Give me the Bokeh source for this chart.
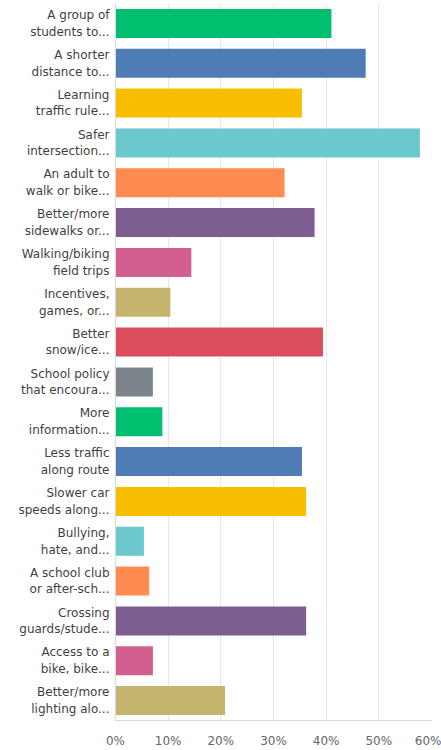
from bokeh.plotting import figure
from bokeh.models import FactorRange, ColumnDataSource, NumeralTickFormatter, FixedTicker
from bokeh.embed import file_html
from bokeh.resources import INLINE

labels = [
    "A group of\nstudents to...",
    "A shorter\ndistance to...",
    "Learning\ntraffic rule...",
    "Safer\nintersection...",
    "An adult to\nwalk or bike...",
    "Better/more\nsidewalks or...",
    "Walking/biking\nfield trips",
    "Incentives,\ngames, or...",
    "Better\nsnow/ice...",
    "School policy\nthat encoura...",
    "More\ninformation...",
    "Less traffic\nalong route",
    "Slower car\nspeeds along...",
    "Bullying,\nhate, and...",
    "A school club\nor after-sch...",
    "Crossing\nguards/stude...",
    "Access to a\nbike, bike...",
    "Better/more\nlighting alo...",
]
values = [41.0, 47.5, 35.4, 57.8, 32.1, 37.8, 14.4, 10.4, 39.4, 7.1,
          8.9, 35.4, 36.2, 5.4, 6.4, 36.2, 7.1, 20.8]
palette = ["#00BF6F", "#507CB6", "#F9BE00", "#6BC8CD", "#FF8B4F",
           "#7D5E90", "#D25F90", "#C4B46E", "#DB4D5C", "#7C868A"]
colors = [palette[i % len(palette)] for i in range(len(labels))]
x_ticks = [0, 10, 20, 30, 40, 50, 60]

src = ColumnDataSource(dict(cat=labels, val=[v / 100 for v in values], color=colors))

p = figure(width=441, height=750, output_backend="svg", toolbar_location=None,
           y_range=FactorRange(factors=list(reversed(labels)), range_padding=0),
           x_range=(0, 0.6),
           min_border_left=115, min_border_right=10, min_border_top=3, min_border_bottom=23)
p.hbar(y="cat", right="val", left=0, height=0.73, color="color", source=src, line_color=None)

p.outline_line_color = None
p.ygrid.grid_line_color = None
p.xgrid.grid_line_color = "#e6e6e6"
p.xaxis.ticker = FixedTicker(ticks=[t / 100 for t in x_ticks])
p.xaxis.formatter = NumeralTickFormatter(format="0%")
for ax in (p.xaxis, p.yaxis):
    ax.major_tick_line_color = None
    ax.minor_tick_line_color = None
    ax.axis_line_color = "#d9d9d9"
    ax.major_label_text_color = "#3f3f3f"
    ax.major_label_text_font = "DejaVu Sans"
    ax.major_label_text_font_size = "12px"
p.yaxis.major_label_standoff = 0
p.xaxis.major_label_standoff = 7
p.xaxis.major_label_text_color = "#666666"

open("out.html", "w").write(file_html(p, INLINE))
